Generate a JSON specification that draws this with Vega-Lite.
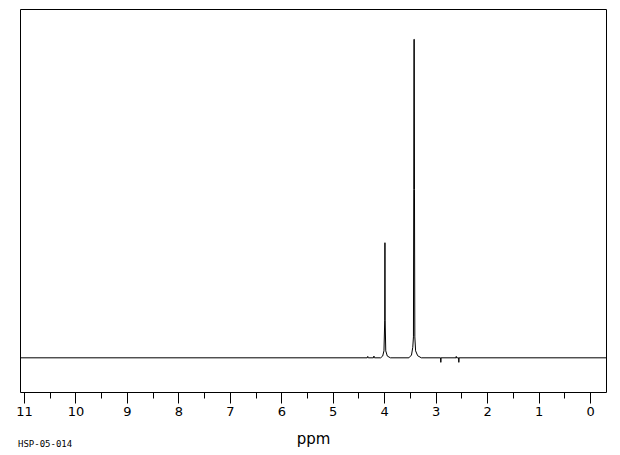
{
  "$schema": "https://vega.github.io/schema/vega-lite/v6.json",
  "width": 586,
  "height": 383,
  "autosize": {"type": "none"},
  "padding": {"left": 20, "top": 9, "right": 14, "bottom": 63},
  "background": "white",
  "title": {"text": "HSP-05-014", "orient": "bottom", "anchor": "start", "frame": "group", "font": "DejaVu Sans Mono", "fontSize": 9, "fontWeight": "normal", "color": "black", "offset": -6, "dx": -2},
  "config": {"view": {"stroke": "black", "strokeWidth": 1}},
  "data": {"values": [
    {"ppm": 11.078, "i": 0},
    {"ppm": 4.33, "i": 0},
    {"ppm": 4.32, "i": 0.4},
    {"ppm": 4.31, "i": 0},
    {"ppm": 4.21, "i": 0},
    {"ppm": 4.2, "i": 0.5},
    {"ppm": 4.19, "i": 0},
    {"ppm": 4.07, "i": 0},
    {"ppm": 4.03, "i": 0.5},
    {"ppm": 4.005, "i": 2},
    {"ppm": 3.99, "i": 10.6},
    {"ppm": 3.986, "i": 33},
    {"ppm": 3.982, "i": 10.6},
    {"ppm": 3.97, "i": 2},
    {"ppm": 3.94, "i": 0.5},
    {"ppm": 3.88, "i": 0},
    {"ppm": 3.52, "i": 0},
    {"ppm": 3.47, "i": 0.8},
    {"ppm": 3.445, "i": 3},
    {"ppm": 3.432, "i": 6},
    {"ppm": 3.426, "i": 48.3},
    {"ppm": 3.422, "i": 91.3},
    {"ppm": 3.416, "i": 91.3},
    {"ppm": 3.412, "i": 48.3},
    {"ppm": 3.405, "i": 6},
    {"ppm": 3.39, "i": 2},
    {"ppm": 3.35, "i": 0.6},
    {"ppm": 3.28, "i": 0},
    {"ppm": 2.905, "i": 0},
    {"ppm": 2.9, "i": -1.3},
    {"ppm": 2.895, "i": 0},
    {"ppm": 2.605, "i": 0},
    {"ppm": 2.6, "i": 0.4},
    {"ppm": 2.595, "i": 0},
    {"ppm": 2.555, "i": 0},
    {"ppm": 2.55, "i": -1.3},
    {"ppm": 2.545, "i": 0},
    {"ppm": -0.31, "i": 0}
  ]},
  "mark": {"type": "line", "color": "black", "strokeWidth": 1, "interpolate": "linear"},
  "encoding": {
    "x": {
      "field": "ppm", "type": "quantitative", "sort": null,
      "scale": {"domain": [11.078, -0.31], "nice": false, "zero": false},
      "axis": {
        "values": [11, 10.5, 10, 9.5, 9, 8.5, 8, 7.5, 7, 6.5, 6, 5.5, 5, 4.5, 4, 3.5, 3, 2.5, 2, 1.5, 1, 0.5, 0],
        "labelExpr": "datum.value % 1 === 0 ? datum.value : ''",
        "tickSize": {"condition": {"test": "datum.value % 1 !== 0", "value": 6}, "value": 11},
        "tickColor": "black",
        "tickWidth": 1,
        "domain": false,
        "grid": false,
        "labelFont": "DejaVu Sans",
        "labelFontSize": 13,
        "labelColor": "black",
        "labelPadding": 2,
        "labelFlush": false,
        "title": "ppm",
        "titleFont": "DejaVu Sans",
        "titleFontSize": 15,
        "titleFontWeight": "normal",
        "titleColor": "black",
        "titlePadding": 13
      }
    },
    "y": {
      "field": "i", "type": "quantitative",
      "scale": {"domain": [-9.8, 100], "nice": false, "zero": false},
      "axis": null
    }
  }
}
